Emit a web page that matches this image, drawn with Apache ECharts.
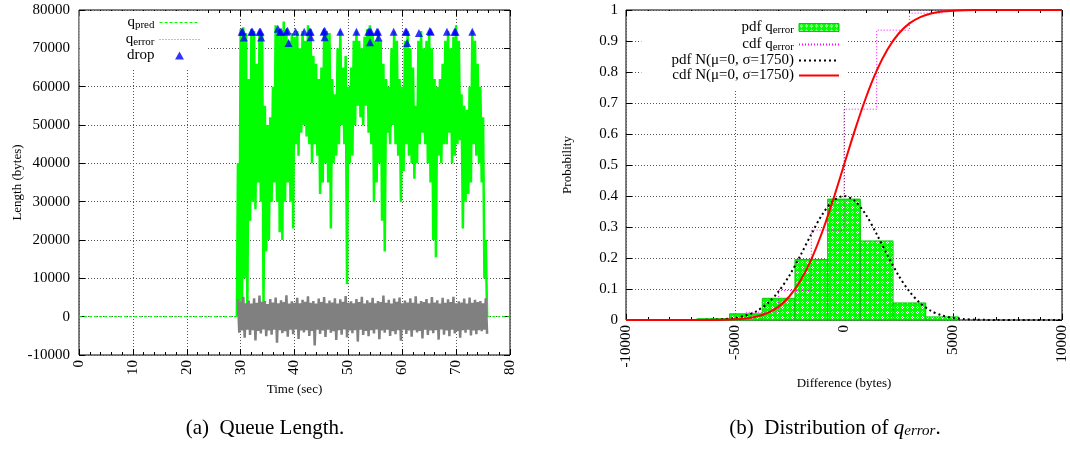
<!DOCTYPE html>
<html>
<head>
<meta charset="utf-8">
<script src="https://cdn.jsdelivr.net/npm/echarts@6/dist/echarts.min.js"></script>
<style>
  html, body { margin: 0; padding: 0; background: #fff; }
  #chart { width: 1070px; height: 461px; }
</style>
</head>
<body>
<div id="chart"></div>
<script>
// ---- (a) queue length: envelope of q_pred / q_error, one hi/lo pair every 0.5 s from 29.5 s
const sampleStart = 29.5;
const sampleStep = 0.5;
const predHi = [
  40000, 75000, 75500, 74000, 62000, 75000, 74500, 66000, 74500, 74000,
  55000, 50000, 52000, 60000, 76000, 75000, 74000, 77000, 75000, 72000,
  74000, 73000, 74500, 70000, 74500, 72000, 76000, 75000, 68000, 66000,
  62000, 65000, 75000, 74500, 74000, 62000, 58000, 70000, 74500, 65000,
  68000, 60000, 65000, 72000, 74500, 72000, 70000, 73000, 75000, 76000,
  74000, 72000, 74500, 72000, 66000, 62000, 60000, 70000, 74500, 72000,
  62000, 60000, 72000, 74500, 70000, 65000, 55000, 72000, 74500, 70000,
  72000, 74500, 70000, 62000, 60000, 62000, 66000, 72000, 74500, 70000,
  73000, 76000, 72000, 58000, 55000, 54000, 60000, 74500, 72000, 66000,
  60000, 52000, 20000
];
const predLo = [
  0, 3000, 10000, 1500, 25000, 30000, 28000, 35000, 30000, 2500,
  17000, 20000, 30000, 35000, 30000, 22000, 20000, 30000, 35000, 30000,
  23000, 45000, 42000, 48000, 50000, 47000, 45000, 40000, 45000, 42000,
  32000, 35000, 40000, 35000, 23000, 40000, 42000, 45000, 50000, 45000,
  8500, 40000, 42000, 50000, 55000, 52000, 50000, 55000, 48000, 45000,
  30000, 35000, 40000, 25000, 17000, 48000, 45000, 50000, 45000, 42000,
  30000, 38000, 45000, 42000, 40000, 36000, 40000, 45000, 48000, 45000,
  40000, 35000, 20000, 15500, 42000, 40000, 45000, 45000, 48000, 40000,
  42000, 45000, 46000, 23000, 30000, 32000, 35000, 45000, 42000, 40000,
  35000, 10000, 0
];
// q_pred sits at zero outside the busy period
const predIdleT = [[0, 29.3], [75.8, 80]];
const errHi = [
  4500, 3800, 5200, 3500, 4200, 3400, 4800, 3600, 5500, 3900,
  4100, 3300, 4600, 3700, 5000, 3500, 4300, 3800, 5600, 3400,
  4000, 3600, 4900, 3500, 4400, 3900, 5300, 3600, 4100, 3400,
  4700, 3800, 5100, 3500, 4200, 3700, 4800, 3400, 4500, 3900,
  5400, 3600, 4000, 3500, 4600, 3800, 5200, 3400, 4300, 3700,
  4900, 3500, 4100, 3800, 5500, 3600, 4400, 3400, 4700, 3900,
  5000, 3500, 4200, 3700, 4800, 3600, 5300, 3400, 4100, 3800,
  4600, 3500, 5100, 3700, 4300, 3400, 4900, 3600, 4500, 3800,
  5200, 3500, 4000, 3700, 4700, 3400, 5000, 3600, 4400, 3800,
  4100, 3500, 4800
];
const errLo = [
  -4200, -3600, -5500, -3400, -4800, -3500, -6200, -3700, -4400, -3300,
  -5100, -3600, -4700, -3400, -6800, -3500, -4300, -3800, -5200, -3400,
  -4600, -3300, -5800, -3600, -4100, -3500, -5000, -3700, -7500, -3400,
  -4500, -3600, -5300, -3400, -4200, -3800, -6100, -3500, -4700, -3300,
  -5400, -3600, -4300, -3500, -6500, -3400, -4800, -3700, -5100, -3500,
  -4400, -3300, -5900, -3600, -4200, -3400, -5000, -3800, -4600, -3500,
  -6300, -3400, -4500, -3600, -5200, -3500, -4100, -3700, -5700, -3400,
  -4800, -3600, -4300, -3500, -6000, -3300, -4700, -3600, -5100, -3400,
  -4400, -3700, -5500, -3500, -4200, -3400, -4900, -3600, -4600, -3500,
  -3800, -3400, -4500
];
const dropT = [30.2, 30.4, 30.6, 32.0, 32.2, 33.5, 33.7, 33.8, 36.9, 37.3, 37.5, 38.5, 38.7, 38.9, 40.2,
  41.8, 42.8, 43.0, 43.0, 45.4, 45.6, 45.6, 48.5, 51.5, 53.7, 54.0, 54.0, 54.2, 55.3, 55.5, 55.6,
  58.4, 60.6, 60.8, 60.9, 63.1, 65.1, 65.3, 68.3, 69.7, 69.9, 73.0];
const dropV = [74300, 74300, 72800, 74300, 74300, 74300, 74300, 72800, 75100, 74300, 74300, 74300, 74600, 71400, 74300,
  74300, 74300, 74300, 72900, 74300, 74600, 72900, 74300, 74300, 74300, 74300, 71600, 74300, 74300, 74300, 72800,
  74300, 74300, 74300, 71400, 74000, 74500, 74300, 74300, 74300, 74300, 74300];

// ---- (b) distribution of q_error
const binWidth = 1500;
const histCenters = [-6000, -4500, -3000, -1500, 0, 1500, 3000, 4500];
const histPdf = [0.004, 0.02, 0.07, 0.195, 0.39, 0.255, 0.055, 0.01];
const cdfX = [-10000, -6000, -4500, -3000, -1500, 0, 1500, 3000, 4500, 6000, 10000];
const cdfY = [0, 0.005, 0.025, 0.095, 0.29, 0.68, 0.935, 0.99, 0.998, 1, 1];
const normX = [-10000, -8000, -7000, -6500, -6000, -5500, -5000, -4500, -4000, -3500, -3000, -2500, -2000, -1500, -1000, -500,
  0, 500, 1000, 1500, 2000, 2500, 3000, 3500, 4000, 4500, 5000, 5500, 6000, 6500, 7000, 8000, 10000];
const normPdf = [0, 0, 0.0001, 0.0004, 0.0011, 0.0029, 0.0067, 0.0147, 0.029, 0.054, 0.092, 0.144, 0.208, 0.277, 0.340, 0.384,
  0.4, 0.384, 0.340, 0.277, 0.208, 0.144, 0.092, 0.054, 0.029, 0.0147, 0.0067, 0.0029, 0.0011, 0.0004, 0.0001, 0, 0];
const normCdf = [0, 0, 0, 0.0001, 0.0003, 0.0008, 0.0021, 0.0051, 0.0111, 0.0228, 0.0432, 0.0766, 0.1265, 0.1957, 0.2839, 0.3875,
  0.5, 0.6125, 0.7161, 0.8043, 0.8735, 0.9234, 0.9568, 0.9772, 0.9889, 0.9949, 0.9979, 0.9992, 0.9997, 0.9999, 1, 1, 1];

const FONT = 'Liberation Serif';

// zig-zag between the low and high envelope so the band looks like the dense trace
function zigzag(hi, lo) {
  const out = [];
  for (let i = 0; i < hi.length; i++) {
    const t = sampleStart + i * sampleStep;
    out.push([t, hi[i]]);
    out.push([t + sampleStep / 2, lo[i]]);
  }
  return out;
}
const predData = [[predIdleT[0][1], 0]].concat(zigzag(predHi, predLo), [[predIdleT[1][0], 0]]);
const idleData = [[predIdleT[0][0], 0], [predIdleT[0][1], 0], null, [predIdleT[1][0], 0], [predIdleT[1][1], 0]];
const errData = zigzag(errHi, errLo);
const dropData = dropT.map((t, i) => [t, dropV[i]]);

// hatched fill for the histogram
const tile = document.createElement('canvas');
tile.width = 5; tile.height = 5;
const tctx = tile.getContext('2d');
tctx.fillStyle = '#00ff00';
tctx.fillRect(0, 0, 5, 5);
tctx.fillStyle = '#ffffff';
tctx.fillRect(2, 1, 1, 1);
tctx.fillRect(1, 2, 1, 1);
tctx.fillRect(3, 2, 1, 1);
tctx.fillRect(2, 3, 1, 1);
const hatch = { image: tile, repeat: 'repeat' };

const labelStyle = { color: '#000', fontFamily: FONT, fontSize: 15 };
const nameStyle = { color: '#000', fontFamily: FONT, fontSize: 13 };
const tick = { show: true, inside: true, length: 6, lineStyle: { color: '#000' } };
const minor = { show: true, splitNumber: 5, length: 3, lineStyle: { color: '#000' } };
const grid = { show: true, lineStyle: { color: '#555', type: [1, 2], width: 1 } };
const noLine = { show: false, onZero: false };
const num = v => String(v);

function mirror(axis, extra) {
  return Object.assign({}, axis, {
    axisLabel: { show: false }, splitLine: { show: false }, name: '',
  }, extra);
}

const xA = {
  gridIndex: 0, type: 'value', min: 0, max: 80, interval: 10,
  axisLine: noLine, axisTick: tick, minorTick: minor, splitLine: grid,
  axisLabel: Object.assign({ rotate: 90, margin: 5, formatter: num }, labelStyle),
  name: 'Time (sec)', nameLocation: 'middle', nameGap: 22, nameTextStyle: nameStyle
};
const yA = {
  gridIndex: 0, type: 'value', min: -10000, max: 80000, interval: 10000,
  axisLine: noLine, axisTick: tick, splitLine: grid,
  axisLabel: Object.assign({ margin: 9, formatter: num }, labelStyle),
  name: 'Length (bytes)', nameLocation: 'middle', nameGap: 55, nameTextStyle: nameStyle
};
const xB = {
  gridIndex: 1, type: 'value', min: -10000, max: 10000, interval: 5000,
  axisLine: noLine, axisTick: tick, minorTick: minor, splitLine: grid,
  axisLabel: Object.assign({ rotate: 90, margin: 5, formatter: num }, labelStyle),
  name: 'Difference (bytes)', nameLocation: 'middle', nameGap: 57, nameTextStyle: nameStyle
};
const yB = {
  gridIndex: 1, type: 'value', min: 0, max: 1, interval: 0.1,
  axisLine: noLine, axisTick: tick, splitLine: grid,
  axisLabel: Object.assign({ margin: 8 }, labelStyle),
  name: 'Probability', nameLocation: 'middle', nameGap: 52, nameTextStyle: nameStyle
};

const rich = {
  sub: { fontFamily: FONT, fontSize: 11, color: '#000', lineHeight: 9, padding: [6, 0, 0, 0] }
};
const legendText = {
  'q_pred': 'q{sub|pred}',
  'q_error': 'q{sub|error}',
  'drop': 'drop',
  'pdf q_error': 'pdf q{sub|error}',
  'cdf q_error': 'cdf q{sub|error}',
  'pdf N(μ=0, σ=1750)': 'pdf N(μ=0, σ=1750)',
  'cdf N(μ=0, σ=1750)': 'cdf N(μ=0, σ=1750)'
};
const hideSym = { color: 'rgba(0,0,0,0)', borderColor: 'rgba(0,0,0,0)', borderWidth: 0 };
const legendBase = {
  orient: 'vertical', align: 'right', itemWidth: 40, itemHeight: 8, itemGap: 0,
  backgroundColor: '#fff', selectedMode: false,
  textStyle: { fontFamily: FONT, fontSize: 15, lineHeight: 15, color: '#000', rich: rich },
  formatter: name => legendText[name]
};

const chart = echarts.init(document.getElementById('chart'));
chart.setOption({
  animation: false,
  backgroundColor: '#fff',
  grid: [
    { left: 79, top: 10, width: 431, height: 345, show: true, borderColor: '#000', borderWidth: 1, backgroundColor: 'transparent' },
    { left: 626, top: 10, width: 436, height: 310, show: true, borderColor: '#000', borderWidth: 1, backgroundColor: 'transparent' }
  ],
  xAxis: [xA, mirror(xA, { position: 'top' }), xB, mirror(xB, { position: 'top', gridIndex: 1 })],
  yAxis: [yA, mirror(yA, { position: 'right' }), yB, mirror(yB, { position: 'right', gridIndex: 1 })],
  legend: [
    Object.assign({}, legendBase, {
      right: 862, top: 11, padding: [3, 8, 6, 46],
      data: [
        { name: 'q_pred', lineStyle: { type: [3, 2], width: 1 }, itemStyle: hideSym },
        { name: 'q_error', lineStyle: { type: [1, 2], width: 1 }, itemStyle: hideSym },
        { name: 'drop', icon: 'path://M5,0L10,9L0,9Z' }
      ]
    }),
    Object.assign({}, legendBase, {
      right: 222, top: 11, padding: [8, 8, 6, 30],
      data: [
        { name: 'pdf q_error', icon: 'rect', itemStyle: { color: hatch, borderColor: '#00cc00', borderWidth: 1 } },
        { name: 'cdf q_error', itemStyle: hideSym },
        { name: 'pdf N(μ=0, σ=1750)', itemStyle: hideSym },
        { name: 'cdf N(μ=0, σ=1750)', itemStyle: hideSym }
      ]
    })
  ],
  graphic: [
    { type: 'text', x: 265, y: 428, style: { text: '(a)  Queue Length.', font: '21px "Liberation Serif"', fill: '#000', align: 'center', verticalAlign: 'middle' } },
    { type: 'text', x: 835, y: 428, style: {
      text: '(b)  Distribution of {q|q}{e|error}.', font: '21px "Liberation Serif"', fill: '#000', align: 'center', verticalAlign: 'middle',
      rich: {
        q: { fontFamily: FONT, fontSize: 21, fontStyle: 'italic' },
        e: { fontFamily: FONT, fontSize: 15, fontStyle: 'italic', padding: [6, 0, 0, 0] }
      }
    } }
  ],
  series: [
    {
      name: 'q_pred', type: 'line', xAxisIndex: 0, yAxisIndex: 0, data: idleData, symbol: 'none',
      lineStyle: { color: '#00ff00', width: 1, type: [3, 2] }, itemStyle: { color: '#00ff00' }, z: 2
    },
    {
      name: 'q_pred', type: 'line', xAxisIndex: 0, yAxisIndex: 0, data: predData, symbol: 'none',
      lineStyle: { color: '#00ff00', width: 2.5 }, itemStyle: { color: '#00ff00' }, z: 2
    },
    {
      name: 'q_error', type: 'line', xAxisIndex: 0, yAxisIndex: 0, data: errData, symbol: 'none',
      lineStyle: { color: '#808080', width: 2.5 }, itemStyle: { color: '#808080' }, z: 3
    },
    {
      name: 'drop', type: 'scatter', xAxisIndex: 0, yAxisIndex: 0, data: dropData,
      symbol: 'triangle', symbolSize: 8, itemStyle: { color: '#0000ff' }, z: 4
    },
    {
      name: 'pdf q_error', type: 'custom', xAxisIndex: 2, yAxisIndex: 2,
      data: histCenters.map((c, i) => [c, histPdf[i]]),
      itemStyle: { color: '#00ff00' },
      renderItem: function (params, api) {
        const c = api.value(0), v = api.value(1);
        const p0 = api.coord([c - binWidth / 2, v]);
        const p1 = api.coord([c + binWidth / 2, 0]);
        return {
          type: 'rect',
          shape: { x: p0[0], y: p0[1], width: p1[0] - p0[0], height: p1[1] - p0[1] },
          style: { fill: hatch, stroke: '#00cc00', lineWidth: 1 }
        };
      },
      z: 2
    },
    {
      name: 'cdf q_error', type: 'line', xAxisIndex: 2, yAxisIndex: 2, step: 'end',
      data: cdfX.map((x, i) => [x, cdfY[i]]), symbol: 'none',
      lineStyle: { color: '#ff00ff', width: 1, type: [1, 2] }, itemStyle: { color: '#ff00ff' }, z: 3
    },
    {
      name: 'pdf N(μ=0, σ=1750)', type: 'line', xAxisIndex: 2, yAxisIndex: 2, smooth: 0.3,
      data: normX.map((x, i) => [x, normPdf[i]]), symbol: 'none',
      lineStyle: { color: '#000', width: 2, type: [2, 3] }, itemStyle: { color: '#000' }, z: 4
    },
    {
      name: 'cdf N(μ=0, σ=1750)', type: 'line', xAxisIndex: 2, yAxisIndex: 2, smooth: 0.3,
      data: normX.map((x, i) => [x, normCdf[i]]), symbol: 'none',
      lineStyle: { color: '#ff0000', width: 2 }, itemStyle: { color: '#ff0000' }, z: 5
    }
  ]
});
</script>
</body>
</html>
